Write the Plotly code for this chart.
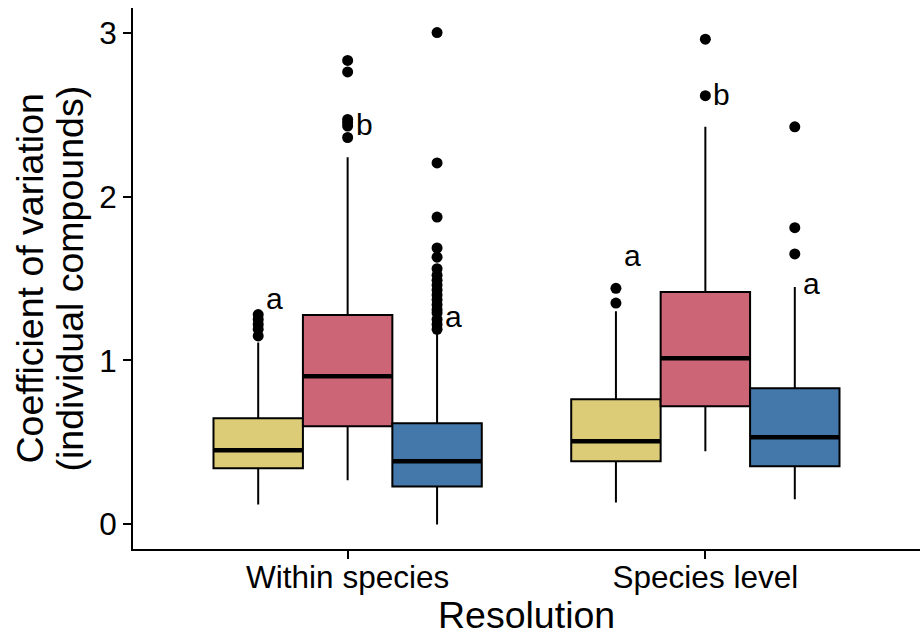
import plotly.graph_objects as go

categories = ["Within species", "Species level"]
groups = ["A", "B", "C"]
colors = ["#DDCC77", "#CC6677", "#4477AA"]

# box statistics per group: [Within species, Species level]
q1 = {"A": [0.342, 0.385], "B": [0.599, 0.721], "C": [0.232, 0.354]}
median = {"A": [0.452, 0.507], "B": [0.904, 1.014], "C": [0.385, 0.531]}
q3 = {"A": [0.648, 0.764], "B": [1.277, 1.417], "C": [0.617, 0.831]}
lower = {"A": [0.122, 0.134], "B": [0.269, 0.446], "C": [0.0, 0.153]}
upper = {"A": [1.11, 1.30], "B": [2.24, 2.425], "C": [1.19, 1.448]}

outliers = {
    "A": [[1.28, 1.25, 1.22, 1.19, 1.15], [1.44, 1.35]],
    "B": [[2.83, 2.76, 2.47, 2.45, 2.43, 2.36], [2.96, 2.615]],
    "C": [[3.0, 2.205, 1.875, 1.686, 1.63, 1.56, 1.52, 1.49, 1.46, 1.43, 1.40,
           1.37, 1.34, 1.31, 1.29, 1.25, 1.22, 1.19], [2.425, 1.81, 1.65]],
}

letters = {"A": ["a", "a"], "B": ["b", "b"], "C": ["a", "a"]}
letter_y = {"A": [1.38, 1.64], "B": [2.44, 2.62], "C": [1.27, 1.47]}

x_title = "Resolution"
y_title_lines = ["Coefficient of variation", "(individual compounds)"]

width = 0.25
offsets = {"A": -0.25, "B": 0.0, "C": 0.25}
FONT = "Liberation Sans, Arial, sans-serif"

fig = go.Figure()
for g, col in zip(groups, colors):
    xs = [i + 1 + offsets[g] for i in range(len(categories))]
    fig.add_trace(go.Box(
        x=xs, q1=q1[g], median=median[g], q3=q3[g],
        lowerfence=lower[g], upperfence=upper[g],
        width=width, whiskerwidth=0, fillcolor=col,
        line=dict(color="black", width=2), boxpoints=False,
        showlegend=False, hoverinfo="skip",
    ))
    for i, x in enumerate(xs):
        fig.add_trace(go.Scatter(
            x=[x - width / 2, x + width / 2], y=[median[g][i], median[g][i]],
            mode="lines", line=dict(color="black", width=4.5),
            showlegend=False, hoverinfo="skip",
        ))
        fig.add_trace(go.Scatter(
            x=[x] * len(outliers[g][i]), y=outliers[g][i], mode="markers",
            marker=dict(color="black", size=11),
            showlegend=False, hoverinfo="skip",
        ))
        fig.add_annotation(
            x=x, y=letter_y[g][i], text=letters[g][i], showarrow=False,
            xanchor="left", xshift=6, font=dict(size=30, color="black"),
        )

# axis titles as annotations
fig.add_annotation(
    xref="paper", yref="paper", x=0.5, y=0, text=x_title, showarrow=False,
    xanchor="center", yanchor="middle", yshift=-66,
    font=dict(size=37.5, color="black"),
)
for line, shift in zip(y_title_lines, [-104, -64]):
    fig.add_annotation(
        xref="paper", yref="paper", x=0, y=0.5, text=line, showarrow=False,
        textangle=-90, xanchor="center", yanchor="middle", xshift=shift,
        font=dict(size=37.5, color="black"),
    )

fig.update_layout(
    width=922, height=634,
    margin=dict(l=133, r=2, t=8, b=85),
    plot_bgcolor="white", paper_bgcolor="white",
    font=dict(family=FONT, color="black"),
    xaxis=dict(
        range=[0.4, 2.6], tickvals=[1, 2], ticktext=categories,
        showgrid=False, zeroline=False, showline=True, linecolor="black",
        linewidth=2, ticks="outside", ticklen=8, tickwidth=2, tickcolor="black",
        tickfont=dict(size=31.5, color="black"), automargin=False,
        ticklabelstandoff=-9,
    ),
    yaxis=dict(
        range=[-0.15, 3.15], tickvals=[0, 1, 2, 3],
        showgrid=False, zeroline=False, showline=True, linecolor="black",
        linewidth=2, ticks="outside", ticklen=8, tickwidth=2, tickcolor="black",
        tickfont=dict(size=31.5, color="black"), automargin=False,
    ),
)

fig.write_html("out.html")
